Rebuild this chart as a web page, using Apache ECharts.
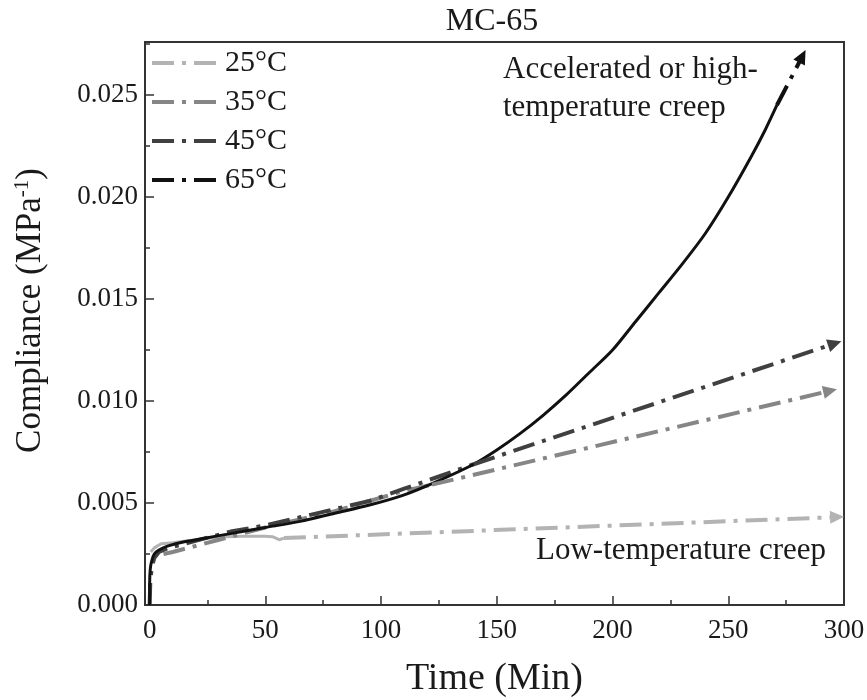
<!DOCTYPE html>
<html><head><meta charset="utf-8">
<script src="https://cdn.jsdelivr.net/npm/echarts/dist/echarts.min.js"></script>
<style>html,body{margin:0;padding:0;background:#fff}#c{width:867px;height:700px}</style>
</head><body><div id="c"></div>
<script>
// ---- data ----
const seriesNames = ['25°C', '35°C', '45°C', '65°C'];

// 25°C measured (solid) then extrapolated (dash-dot)
const t25 = [0.5, 2, 5, 10, 20, 30, 40, 50, 53, 56, 58];
const c25 = [0.0026, 0.0028, 0.0030, 0.00305, 0.0032, 0.00333, 0.00337, 0.00337, 0.00335, 0.0032, 0.00328];
const t25ext = [58, 297];
const c25ext = [0.00328, 0.00431];

// 35°C (dash-dot)
const t35 = [6, 10, 20, 30, 40, 50, 65, 80, 95, 110, 122];
const c35 = [0.0025, 0.0026, 0.0029, 0.0032, 0.0035, 0.0038, 0.0042, 0.0046, 0.0051, 0.0056, 0.0059];
const t35ext = [122, 294];
const c35ext = [0.0059, 0.0105];

// 45°C (dash-dot)
const t45 = [0, 0.3, 1, 2, 4, 8, 15, 25, 35, 50, 65, 80, 95, 110, 125, 140];
const c45 = [0, 0.0012, 0.0019, 0.0023, 0.0026, 0.0028, 0.0030, 0.0033, 0.0036, 0.0039, 0.0043, 0.0047, 0.0051, 0.0057, 0.0063, 0.0069];
const t45ext = [140, 296];
const c45ext = [0.0069, 0.01282];

// 65°C measured (solid) then extrapolated (dash-dot)
const t65 = [0, 0, 0.3, 1, 2, 4, 8, 15, 25, 35, 50, 65, 80, 95, 110, 125, 140, 150, 160, 170, 180, 190, 200, 210, 220, 230, 240, 250, 260, 266, 271];
const c65 = [0, 0.0010, 0.0018, 0.0022, 0.0025, 0.0027, 0.0029, 0.0031, 0.0033, 0.0035, 0.0038, 0.0041, 0.0045, 0.0049, 0.0054, 0.0061, 0.0069, 0.0076, 0.0084, 0.0093, 0.0103, 0.0114, 0.0125, 0.0139, 0.0153, 0.0167, 0.0182, 0.0200, 0.0220, 0.0233, 0.0245];
const t65ext = [271, 282];
const c65ext = [0.0245, 0.0269];

const xTickLabels = ['0', '50', '100', '150', '200', '250', '300'];

// ---- styles ----
const colors = ['#b3b3b3', '#868686', '#404040', '#111111'];
const dashDot = [22, 8, 4, 8];
const font = 'Liberation Serif, Times New Roman, serif';
const zip = (a, b) => a.map((v, i) => [v, b[i]]);

function mainSeries(name, t, c, color, type, width, smooth) {
  return { name, type: 'line', data: zip(t, c), symbol: 'none', smooth: smooth || false,
    lineStyle: { color, width, type }, itemStyle: { color }, animation: false, silent: true, z: 3 };
}
function extSeries(name, t, c, color) {
  return { name, type: 'line', data: zip(t, c), symbol: 'none',
    lineStyle: { opacity: 0, width: 0 }, itemStyle: { color }, animation: false, silent: true,
    markLine: { silent: true, animation: false, label: { show: false },
      emphasis: { disabled: true },
      lineStyle: { color, width: 4, type: dashDot, opacity: 1 },
      data: [[{ coord: [t[0], c[0]], symbol: 'none' },
               { coord: [t[1], c[1]], symbol: 'triangle', symbolSize: [13, 14] }]] } };
}

const chart = echarts.init(document.getElementById('c'), null, { renderer: 'canvas' });
chart.setOption({
  backgroundColor: '#fff',
  animation: false,
  title: { text: 'MC-65', left: 487, textAlign: 'center', top: 1,
    textStyle: { fontFamily: font, fontSize: 32, fontWeight: 'normal', color: '#1a1a1a' } },
  grid: { left: 145, right: 23, top: 42, bottom: 95, containLabel: false, outerBoundsMode: 'none',
    show: true, borderColor: '#333', borderWidth: 2, backgroundColor: 'transparent' },
  legend: { orient: 'vertical', left: 150, top: 48, padding: 0, itemGap: 9,
    itemWidth: 68, itemHeight: 14, data: seriesNames, selectedMode: false,
    lineStyle: { type: dashDot, width: 4 },
    itemStyle: { opacity: 0 },
    textStyle: { fontFamily: font, fontSize: 30, color: '#1a1a1a' } },
  xAxis: { type: 'value', min: -2, max: 300, splitNumber: 6,
    name: 'Time (Min)', nameLocation: 'middle', nameGap: 55,
    nameTextStyle: { fontFamily: font, fontSize: 38, color: '#1a1a1a' },
    axisLine: { show: true, onZero: false, lineStyle: { color: '#333', width: 2 } },
    axisTick: { show: true, inside: true, length: 9, lineStyle: { color: '#333', width: 1.5 } },
    minorTick: { show: true, splitNumber: 2, length: 5, lineStyle: { color: '#333', width: 1.5 } },
    splitLine: { show: false },
    axisLabel: { showMinLabel: false, margin: 12, fontFamily: font, fontSize: 27, color: '#1a1a1a',
      formatter: v => (v < 0 ? '' : xTickLabels[Math.round(v / 50)] || '') } },
  yAxis: { type: 'value', min: 0, max: 0.0276, interval: 0.005,
    name: 'Compliance (MPa{sup|-1})', nameLocation: 'middle', nameGap: 96, nameRotate: 90,
    nameTextStyle: { fontFamily: font, fontSize: 35, color: '#1a1a1a', padding: [0, 0, 0, 26],
      rich: { sup: { fontFamily: font, fontSize: 21, color: '#1a1a1a', padding: [0, 0, 16, 0] } } },
    axisLine: { show: true, onZero: false, lineStyle: { color: '#333', width: 2 } },
    axisTick: { show: true, inside: true, length: 9, lineStyle: { color: '#333', width: 1.5 } },
    minorTick: { show: true, splitNumber: 2, length: 5, lineStyle: { color: '#333', width: 1.5 } },
    splitLine: { show: false },
    axisLabel: { showMaxLabel: false, margin: 7, fontFamily: font, fontSize: 27, color: '#1a1a1a',
      formatter: v => (v > 0.0251 ? '' : v.toFixed(3)) } },
  series: [
    mainSeries('25°C', t25, c25, colors[0], 'solid', 3),
    extSeries('25°C', t25ext, c25ext, colors[0]),
    mainSeries('35°C', t35, c35, colors[1], dashDot, 4),
    extSeries('35°C', t35ext, c35ext, colors[1]),
    mainSeries('45°C', t45, c45, colors[2], dashDot, 4),
    extSeries('45°C', t45ext, c45ext, colors[2]),
    mainSeries('65°C', t65, c65, colors[3], 'solid', 3, 0.3),
    extSeries('65°C', t65ext, c65ext, colors[3])
  ],
  graphic: [
    { type: 'text', left: 503, top: 51, silent: true,
      style: { text: 'Accelerated or high-\ntemperature creep', font: '31px ' + font, fill: '#1a1a1a', lineHeight: 38 } },
    { type: 'text', left: 536, top: 535, silent: true,
      style: { text: 'Low-temperature creep', font: '31px ' + font, fill: '#1a1a1a' } }
  ]
});
</script>
</body></html>
